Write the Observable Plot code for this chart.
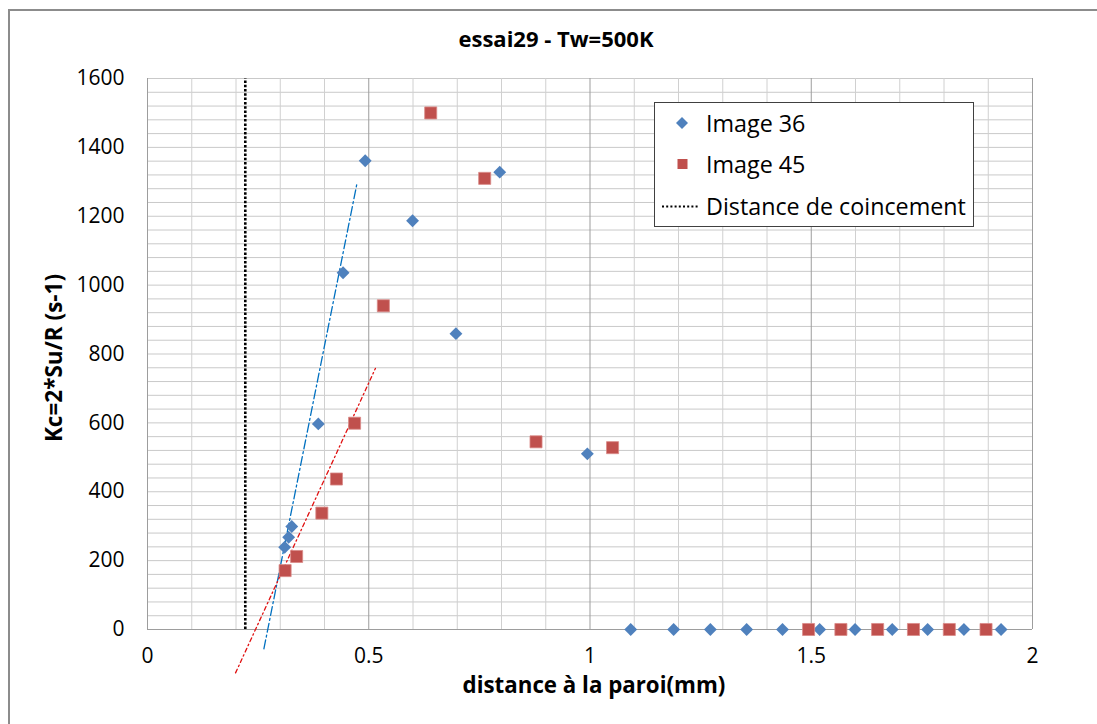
<!DOCTYPE html>
<html><head><meta charset="utf-8">
<script src="https://cdn.jsdelivr.net/npm/d3@7"></script>
<script src="https://cdn.jsdelivr.net/npm/@observablehq/plot@0.6"></script>
<style>
body{margin:0;background:#fff;font-family:"Open Sans",sans-serif;color:#000}
#wrap{position:relative;width:1097px;height:724px;overflow:hidden;background:#fff}
#frame{position:absolute;left:8px;top:9px;width:1100px;height:730px;border:2px solid #8c8c8c;box-sizing:border-box}
#title{position:absolute;left:8px;width:1096px;top:28px;text-align:center;font-weight:bold;font-size:22px;line-height:21px;white-space:nowrap}
#xtitle{position:absolute;left:394px;width:400px;top:679px;text-align:center;font-weight:bold;font-size:22.3px;line-height:12px;white-space:nowrap}
#ytitle{position:absolute;left:-96px;width:300px;top:346px;height:24px;line-height:24px;text-align:center;font-weight:bold;font-size:22.5px;transform:rotate(-90deg);white-space:nowrap}
#legend{position:absolute;left:654px;top:102px;width:320px;height:125px;border:1px solid #404040;background:#fff;box-sizing:border-box}
.lrow{position:absolute;left:0;width:318px;height:30px}
.ltext{position:absolute;left:51px;top:0;line-height:30px;font-size:23.3px;white-space:nowrap}
.lrow svg{position:absolute;left:0;top:0}
#plot{position:absolute;left:0;top:0}
</style></head>
<body>
<div id="wrap">
  <div id="frame"></div>
  <div id="plot"></div>
  <div id="title">essai29 - Tw=500K</div>
  <div id="xtitle">distance à la paroi(mm)</div>
  <div id="ytitle">Kc=2*Su/R (s-1)</div>
  <div id="legend"></div>
</div>
<script>
// ---- data ----
const seriesNames = ["Image 36", "Image 45", "Distance de coincement"];
const img36X = [0.310, 0.319, 0.326, 0.386, 0.442, 0.492, 0.599, 0.697, 0.796, 0.994,
                1.092, 1.189, 1.272, 1.354, 1.435, 1.519, 1.599, 1.683, 1.763, 1.845, 1.929];
const img36Y = [239, 268, 299, 597, 1036, 1361, 1187, 859, 1328, 510,
                0, 0, 0, 0, 0, 0, 0, 0, 0, 0, 0];
const img45X = [0.311, 0.337, 0.394, 0.427, 0.468, 0.533, 0.640, 0.762, 0.878, 1.051,
                1.494, 1.567, 1.650, 1.731, 1.812, 1.895];
const img45Y = [171, 212, 338, 437, 599, 940, 1500, 1310, 545, 528,
                0, 0, 0, 0, 0, 0];
const coincementX = 0.221;
const trend36X = [0.263, 0.474];
const trend36Y = [-56, 1299];
const trend45X = [0.199, 0.515];
const trend45Y = [-126, 758];
const xTicks = [0, 0.5, 1, 1.5, 2];
const xMinor = [0.1, 0.2, 0.3, 0.4, 0.6, 0.7, 0.8, 0.9, 1.1, 1.2, 1.3, 1.4, 1.6, 1.7, 1.8, 1.9];
const yTicks = [0, 200, 400, 600, 800, 1000, 1200, 1400, 1600];
const yDomain = [0, 1600];
const yMinorStep = 40;

// ---- tables ----
const img36 = img36X.map((x, i) => ({x, y: img36Y[i]}));
const img45 = img45X.map((x, i) => ({x, y: img45Y[i]}));
const t36 = trend36X.map((x, i) => ({x, y: trend36Y[i]}));
const t45 = trend45X.map((x, i) => ({x, y: trend45Y[i]}));
const yGrid = d3.range(yDomain[0], yDomain[1] + 1, yMinorStep);
const coinc = [{x: coincementX, y1: yDomain[0], y2: yDomain[1]}];

const blue = "#4F81BD", red = "#C0504D";

const chart = Plot.plot({
  width: 1097, height: 724,
  marginLeft: 147, marginRight: 65, marginTop: 78, marginBottom: 95,
  style: {fontFamily: '"Open Sans", sans-serif', fontSize: "21px", color: "#000", background: "transparent", overflow: "visible"},
  x: {domain: [0, 2], label: null},
  y: {domain: yDomain, label: null},
  marks: [
    Plot.ruleY(yGrid, {stroke: "#c9c9c9", strokeWidth: 1}),
    Plot.ruleX(xMinor, {stroke: "#d0d0d0", strokeWidth: 1}),
    Plot.ruleX(xTicks, {stroke: "#9d9d9d", strokeWidth: 1}),
    Plot.ruleY([0], {stroke: "#9d9d9d", strokeWidth: 1.2}),
    Plot.axisX({ticks: xTicks, tickSize: 0, tickPadding: 19, tickFormat: d => String(d), label: null}),
    Plot.axisY({ticks: yTicks, tickSize: 0, tickPadding: 23, tickFormat: d => String(d), label: null}),
    Plot.ruleX(coinc, {x: "x", y1: "y1", y2: "y2", stroke: "#000", strokeWidth: 2.6, strokeDasharray: "2.5 1.8"}),
    Plot.line(t36, {x: "x", y: "y", stroke: "#0070C0", strokeWidth: 1.3, strokeDasharray: "9 3 2 3"}),
    Plot.line(t45, {x: "x", y: "y", stroke: "#E01010", strokeWidth: 1.3, strokeDasharray: "4 3 1.5 3"}),
    Plot.dot(img36, {x: "x", y: "y", symbol: "diamond2", r: 5.8, fill: blue, stroke: null}),
    Plot.dot(img45, {x: "x", y: "y", symbol: "square", r: 6.8, fill: red, stroke: "#d98a88", strokeWidth: 0.8})
  ]
});
document.getElementById("plot").appendChild(chart);

// ---- legend ----
const legend = document.getElementById("legend");
const rows = [
  {name: seriesNames[0], top: 5, sym: `<polygon points="27,9 33,15 27,21 21,15" fill="${blue}"/>`},
  {name: seriesNames[1], top: 46, sym: `<rect x="22.5" y="10" width="10" height="10" fill="${red}"/>`},
  {name: seriesNames[2], top: 88, sym: `<line x1="7" y1="15.5" x2="44" y2="15.5" stroke="#000" stroke-width="2" stroke-dasharray="2 2.2"/>`}
];
rows.forEach(r => {
  const d = document.createElement("div");
  d.className = "lrow";
  d.style.top = r.top + "px";
  d.innerHTML = `<svg width="50" height="30">${r.sym}</svg><span class="ltext">${r.name}</span>`;
  legend.appendChild(d);
});
</script>
</body></html>
